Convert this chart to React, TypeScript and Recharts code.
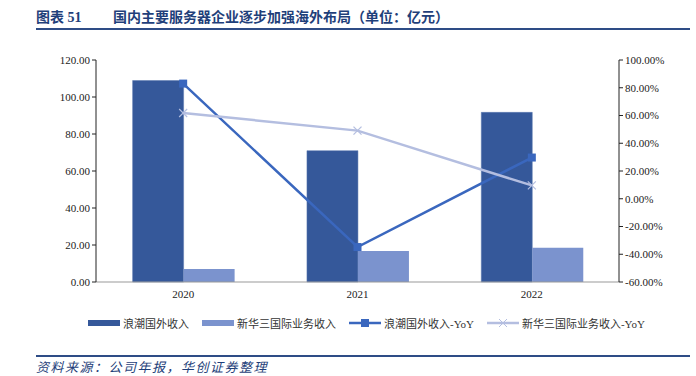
import { ComposedChart, Bar, Line, XAxis, YAxis } from 'recharts'

const years = ['2020', '2021', '2022']
const inspurOverseas = [108.9, 71.0, 91.7]
const h3cIntl = [7.0, 16.7, 18.5]
const inspurYoy = [83.0, -34.8, 29.7]
const h3cYoy = [61.8, 49.1, 9.6]
const leftTicks = [0, 20, 40, 60, 80, 100, 120]
const rightTicks = [-60, -40, -20, 0, 20, 40, 60, 80, 100]

const data = years.map((y, i) => ({
  year: y,
  inspur: inspurOverseas[i],
  h3c: h3cIntl[i],
  inspurYoy: inspurYoy[i],
  h3cYoy: h3cYoy[i],
}))

const DARK = '#35589A'
const LIGHT = '#7B93CE'
const LINE1 = '#3A67BE'
const LINE2 = '#B4BEE0'
const serif = '"Liberation Serif", "Times New Roman", serif'
const cjk = '"Noto Sans CJK SC", sans-serif'
const mixed = `"Liberation Serif", ${cjk}`

const tick = { fontSize: 11, fill: '#222', fontFamily: serif }

function SquareDot(props: any) {
  const { cx, cy } = props
  if (cx == null || cy == null) return null
  return <rect x={cx - 4} y={cy - 4} width={8} height={8} fill={LINE1} />
}

function CrossDot(props: any) {
  const { cx, cy } = props
  if (cx == null || cy == null) return null
  return (
    <g stroke={LINE2} strokeWidth={1.2}>
      <line x1={cx - 4} y1={cy - 4} x2={cx + 4} y2={cy + 4} />
      <line x1={cx - 4} y1={cy + 4} x2={cx + 4} y2={cy - 4} />
    </g>
  )
}

function LegendItem({ kind, color, label }: { kind: string; color: string; label: string }) {
  return (
    <div style={{ display: 'flex', alignItems: 'center', marginRight: 13 }}>
      <svg width={32} height={10} style={{ marginRight: 3 }}>
        {kind === 'bar' && <rect x={0} y={2} width={32} height={6} fill={color} />}
        {kind === 'square' && (
          <>
            <line x1={0} y1={5} x2={32} y2={5} stroke={color} strokeWidth={2.5} />
            <rect x={12} y={1} width={8} height={8} fill={color} />
          </>
        )}
        {kind === 'cross' && (
          <>
            <line x1={0} y1={5} x2={32} y2={5} stroke={color} strokeWidth={2.5} />
            <line x1={12} y1={1} x2={20} y2={9} stroke={color} strokeWidth={1} />
            <line x1={12} y1={9} x2={20} y2={1} stroke={color} strokeWidth={1} />
          </>
        )}
      </svg>
      <span style={{ fontSize: 11, fontFamily: mixed, color: '#333' }}>{label}</span>
    </div>
  )
}

export default function App() {
  return (
    <div style={{ position: 'relative', width: 696, height: 376, background: '#fff', overflow: 'hidden' }}>
      <style>{'body{margin:0}'}</style>
      <div
        style={{
          position: 'absolute',
          left: 36,
          top: 6,
          fontFamily: mixed,
          fontWeight: 700,
          fontSize: 14,
          color: '#1F3F7A',
          whiteSpace: 'nowrap',
          display: 'flex',
        }}
      >
        <span style={{ width: 77 }}>图表 51</span>
        <span>国内主要服务器企业逐步加强海外布局（单位：亿元）</span>
      </div>
      <div style={{ position: 'absolute', left: 36, right: 6, top: 28, height: 2, background: '#2E4C86' }} />

      <div style={{ position: 'absolute', left: 0, top: 0 }}>
        <ComposedChart
          width={696}
          height={302}
          data={data}
          margin={{ top: 60, right: 0, bottom: 0, left: 0 }}
          barCategoryGap="21%"
          barGap={0}
        >
          <XAxis
            dataKey="year"
            tick={tick}
            tickLine={false}
            axisLine={{ stroke: '#999' }}
            height={20}
          />
          <YAxis
            yAxisId="l"
            width={96}
            domain={[0, 120]}
            ticks={leftTicks}
            tick={tick}
            tickFormatter={(v: number) => v.toFixed(2)}
            axisLine={{ stroke: '#222' }}
            tickLine={{ stroke: '#222' }}
            tickSize={4}
          />
          <YAxis
            yAxisId="r"
            orientation="right"
            width={77}
            domain={[-60, 100]}
            ticks={rightTicks}
            tick={tick}
            tickFormatter={(v: number) => v.toFixed(2) + '%'}
            axisLine={{ stroke: '#222' }}
            tickLine={{ stroke: '#222' }}
            tickSize={4}
          />
          <Bar yAxisId="l" dataKey="inspur" fill={DARK} stroke="#5a78b0" strokeWidth={0.5} isAnimationActive={false} />
          <Bar yAxisId="l" dataKey="h3c" fill={LIGHT} isAnimationActive={false} />
          <Line
            yAxisId="r"
            dataKey="inspurYoy"
            stroke={LINE1}
            strokeWidth={2.5}
            dot={<SquareDot />}
            activeDot={false}
            isAnimationActive={false}
          />
          <Line
            yAxisId="r"
            dataKey="h3cYoy"
            stroke={LINE2}
            strokeWidth={2.5}
            dot={<CrossDot />}
            activeDot={false}
            isAnimationActive={false}
          />
        </ComposedChart>
      </div>

      <div style={{ position: 'absolute', left: 88, top: 315, display: 'flex' }}>
        <LegendItem kind="bar" color={DARK} label="浪潮国外收入" />
        <LegendItem kind="bar" color={LIGHT} label="新华三国际业务收入" />
        <LegendItem kind="square" color={LINE1} label="浪潮国外收入-YoY" />
        <LegendItem kind="cross" color={LINE2} label="新华三国际业务收入-YoY" />
      </div>

      <div style={{ position: 'absolute', left: 36, right: 6, top: 355, height: 2, background: '#2E4C86' }} />
      <div
        style={{
          position: 'absolute',
          left: 36,
          top: 359,
          fontSize: 13,
          lineHeight: '15px',
          fontStyle: 'italic',
          fontFamily: cjk,
          color: '#1F3F7A',
          letterSpacing: 1.5,
          whiteSpace: 'nowrap',
        }}
      >
        资料来源：公司年报，华创证券整理
      </div>
    </div>
  )
}
